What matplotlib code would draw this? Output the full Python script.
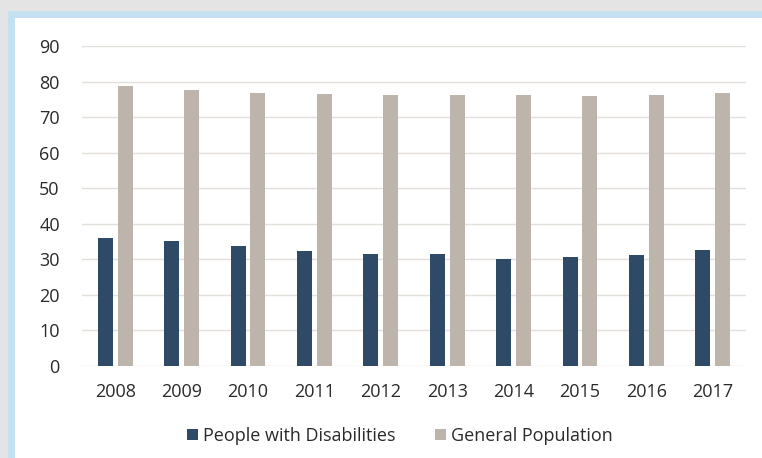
import numpy as np
import matplotlib.pyplot as plt
from matplotlib.patches import Rectangle

years = ["2008", "2009", "2010", "2011", "2012", "2013", "2014", "2015", "2016", "2017"]
disabled = [36.0, 35.2, 33.8, 32.3, 31.5, 31.5, 30.1, 30.6, 31.2, 32.6]
general = [78.7, 77.6, 76.8, 76.5, 76.2, 76.2, 76.2, 75.9, 76.2, 76.8]

plt.rcParams['font.family'] = ['Open Sans', 'DejaVu Sans']

fig = plt.figure(figsize=(7.62, 4.58), dpi=100)
fig.patch.set_facecolor('#e4e4e4')

# frame: light blue border with white panel
W, H = 762, 458
fig.add_artist(Rectangle((8 / W, 0), 1, 1 - 11 / H, transform=fig.transFigure,
                         facecolor='#c4e0f1', edgecolor='none', zorder=-2))
fig.add_artist(Rectangle((15 / W, 0), 1, 1 - 18 / H, transform=fig.transFigure,
                         facecolor='white', edgecolor='none', zorder=-1))

ax = fig.add_axes([82 / W, 1 - 366 / H, 664 / W, 320 / H])
ax.set_facecolor('none')

x = np.arange(len(years))
w = 0.226
ax.bar(x - 0.15, disabled, w, color='#2f4a66', label='People with Disabilities', zorder=3)
ax.bar(x + 0.15, general, w, color='#bdb4ab', label='General Population', zorder=3)

ax.set_ylim(0, 90)
ax.set_yticks(range(0, 91, 10))
ax.set_xlim(-0.5, len(years) - 0.5)
ax.set_xticks(x)
ax.set_xticklabels(years)
ax.grid(axis='y', color='#e3dfdb', linewidth=1, zorder=0)
for s in ax.spines.values():
    s.set_visible(False)
ax.tick_params(length=0, labelsize=13, colors='#2a2a2a')
ax.tick_params(axis='x', pad=12)
ax.tick_params(axis='y', pad=16)

fig.legend(loc='center', bbox_to_anchor=(400 / W, 1 - 436 / H), ncol=2, frameon=False,
           fontsize=13, handlelength=0.6, handleheight=0.6, handletextpad=0.3,
           columnspacing=2.2, labelcolor='#2a2a2a')

fig.savefig('out.png', dpi=100, facecolor=fig.get_facecolor())
